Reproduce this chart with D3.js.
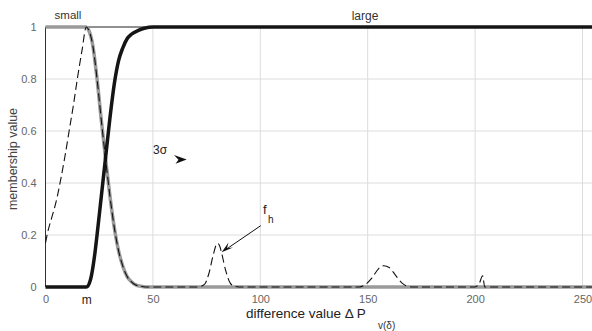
<!DOCTYPE html>
<html>
<head>
<meta charset="utf-8">
<script src="https://cdn.jsdelivr.net/npm/d3@7"></script>
<style>
  body { margin: 0; background: #fff; }
  svg { display: block; font-family: "Liberation Sans", Arial, sans-serif; }
</style>
</head>
<body>
<div id="chart"></div>
<script>
// values
var mValue = 19;
var xTicks = [0, mValue, 50, 100, 150, 200, 250];
var xTickLabels = ["0", "m", "50", "100", "150", "200", "250"];
var yTicks = [0, 0.2, 0.4, 0.6, 0.8, 1];
var yTickLabels = ["0", "0.2", "0.4", "0.6", "0.8", "1"];

// "small" membership function (grey)
var smallX = [0, 19, 20, 22, 24, 26, 28, 30, 32, 34, 36, 38, 40, 42, 45, 48, 256];
var smallY = [1, 1, 0.99, 0.93, 0.8, 0.64, 0.49, 0.35, 0.23, 0.14, 0.08, 0.04, 0.02, 0.008, 0.002, 0, 0];

// "large" membership function (black)
var largeX = [0, 19, 21, 23, 24, 26, 28, 30, 32, 34, 36, 38, 40, 43, 46, 50, 256];
var largeY = [0, 0, 0.03, 0.13, 0.2, 0.35, 0.5, 0.65, 0.78, 0.87, 0.92, 0.955, 0.972, 0.986, 0.995, 1, 1];

// histogram f_h (dashed)
var histX = [0, 1, 3, 5, 7, 9, 11, 13, 15, 17, 19, 20, 22, 24, 26, 28, 30, 32, 34, 36, 38, 40, 42, 45, 48,
             71, 74, 76, 78, 80, 81, 82, 84, 86, 88, 90,
             146, 149, 152, 155, 157.5, 160, 163, 166, 169, 171,
             200, 202, 203.5, 204.5, 256];
var histY = [0.17, 0.21, 0.27, 0.33, 0.41, 0.5, 0.6, 0.7, 0.81, 0.91, 1, 0.99, 0.93, 0.8, 0.64, 0.49, 0.35, 0.23, 0.14, 0.08, 0.04, 0.02, 0.008, 0.002, 0,
             0, 0.01, 0.05, 0.12, 0.168, 0.16, 0.13, 0.06, 0.015, 0.003, 0,
             0, 0.01, 0.035, 0.07, 0.082, 0.075, 0.045, 0.015, 0.002, 0,
             0, 0.015, 0.043, 0, 0];

var width = 592, height = 331;

var svg = d3.select("#chart").append("svg")
    .attr("width", width)
    .attr("height", height);

var x = d3.scaleLinear().domain([0, 250]).range([45.5, 582.5]);
var y = d3.scaleLinear().domain([0, 1]).range([287, 27]);

// grid
svg.append("g").selectAll("line")
    .data([50, 100, 150, 200, 250])
    .enter().append("line")
    .attr("x1", function(d) { return x(d); })
    .attr("x2", function(d) { return x(d); })
    .attr("y1", y(1))
    .attr("y2", y(0))
    .attr("stroke", "#dcdcdc");

svg.append("g").selectAll("line")
    .data([0.2, 0.4, 0.6, 0.8])
    .enter().append("line")
    .attr("x1", x(0))
    .attr("x2", width)
    .attr("y1", function(d) { return y(d); })
    .attr("y2", function(d) { return y(d); })
    .attr("stroke", "#dcdcdc");

// frame: left and top
svg.append("line")
    .attr("x1", x(0)).attr("x2", x(0))
    .attr("y1", y(1)).attr("y2", y(0))
    .attr("stroke", "#333");
svg.append("line")
    .attr("x1", x(0)).attr("x2", width)
    .attr("y1", y(1)).attr("y2", y(1))
    .attr("stroke", "#222");

// axes
var xAxis = d3.axisBottom(x)
    .tickValues(xTicks)
    .tickSize(0)
    .tickPadding(8)
    .tickFormat(function(d, i) { return xTickLabels[i]; });

var yAxis = d3.axisLeft(y)
    .tickValues(yTicks)
    .tickSize(0)
    .tickPadding(9)
    .tickFormat(function(d, i) { return yTickLabels[i]; });

var gx = svg.append("g")
    .attr("transform", "translate(0," + y(0) + ")")
    .call(xAxis);
gx.select(".domain").remove();
gx.selectAll("text")
    .attr("font-family", "Liberation Sans, Arial, sans-serif")
    .attr("fill", function(d) { return d === mValue ? "#222" : "#666"; })
    .attr("font-size", function(d) { return d === mValue ? 12 : 11; });

var gy = svg.append("g")
    .attr("transform", "translate(" + x(0) + ",0)")
    .call(yAxis);
gy.select(".domain").remove();
gy.selectAll("text")
    .attr("font-size", 11)
    .attr("font-family", "Liberation Sans, Arial, sans-serif")
    .attr("fill", "#666");

// curves
var line = d3.line()
    .x(function(d) { return x(d[0]); })
    .y(function(d) { return y(d[1]); })
    .curve(d3.curveMonotoneX);

function pairs(xs, ys) {
    return xs.map(function(v, i) { return [v, ys[i]]; });
}

svg.append("path")
    .datum(pairs(smallX, smallY))
    .attr("d", line)
    .attr("fill", "none")
    .attr("stroke", "#9a9a9a")
    .attr("stroke-width", 3.5);

svg.append("path")
    .datum(pairs(largeX, largeY))
    .attr("d", line)
    .attr("fill", "none")
    .attr("stroke", "#151515")
    .attr("stroke-width", 3.5);

svg.append("path")
    .datum(pairs(histX, histY))
    .attr("d", line)
    .attr("fill", "none")
    .attr("stroke", "#111")
    .attr("stroke-width", 1.1)
    .attr("stroke-dasharray", "8,4");

// labels
svg.append("text")
    .attr("x", 68).attr("y", 19)
    .attr("text-anchor", "middle")
    .attr("font-size", 11.5)
    .attr("fill", "#333")
    .text("small");

svg.append("text")
    .attr("x", 365).attr("y", 20)
    .attr("text-anchor", "middle")
    .attr("font-size", 12)
    .attr("fill", "#333")
    .text("large");

svg.append("text")
    .attr("transform", "translate(17,159) rotate(-90)")
    .attr("text-anchor", "middle")
    .attr("font-size", 12.5)
    .attr("fill", "#444")
    .text("membership value");

svg.append("text")
    .attr("x", 246).attr("y", 318)
    .attr("font-size", 13.5)
    .attr("fill", "#222")
    .text("difference value \u0394 P");

svg.append("text")
    .attr("x", 378).attr("y", 329)
    .attr("font-size", 10)
    .attr("fill", "#333")
    .text("v(\u03b4)");

// 3 sigma annotation
svg.append("text")
    .attr("x", 153).attr("y", 154)
    .attr("font-size", 12)
    .attr("fill", "#222")
    .text("3\u03c3");

svg.append("path")
    .attr("d", "M186.7,159.5 L174,155 L178.5,159.8 L175.5,163.8 Z")
    .attr("fill", "#111");

// f_h annotation
svg.append("text")
    .attr("x", 263).attr("y", 214)
    .attr("font-size", 13)
    .attr("fill", "#222")
    .text("f");
svg.append("text")
    .attr("x", 268).attr("y", 223)
    .attr("font-size", 10)
    .attr("fill", "#222")
    .text("h");

svg.append("line")
    .attr("x1", 260.7).attr("y1", 225.7)
    .attr("x2", 226).attr("y2", 249.4)
    .attr("stroke", "#111")
    .attr("stroke-width", 1);

svg.append("path")
    .attr("d", "M221.7,252.3 L228.5,242.5 L227,248.3 L233,247.5 Z")
    .attr("fill", "#111");
</script>
</body>
</html>
